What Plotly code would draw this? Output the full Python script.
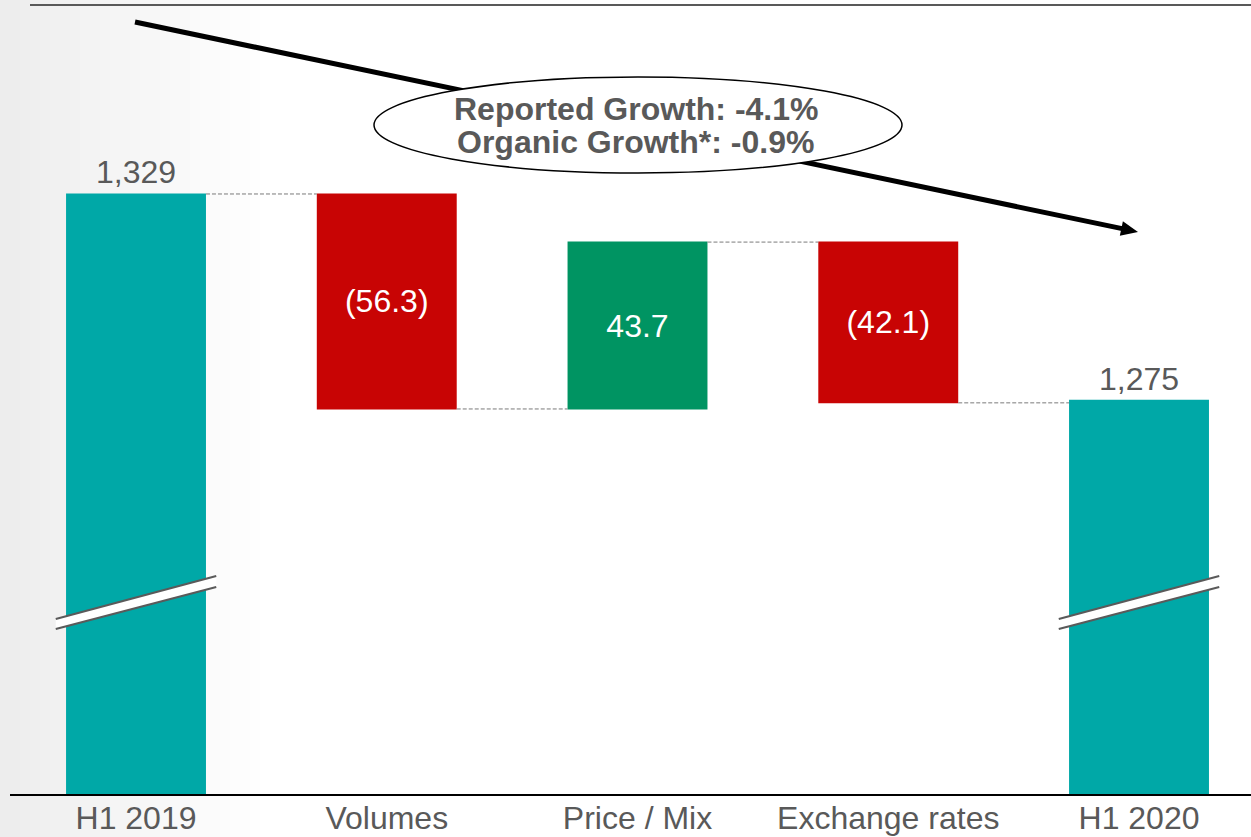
import plotly.graph_objects as go

# ---- data ----
categories = ["H1 2019", "Volumes", "Price / Mix", "Exchange rates", "H1 2020"]
measures = ["absolute", "relative", "relative", "relative", "absolute"]
values = [1329, -56.3, 43.7, -42.1, 1275]
reported_growth = -4.1
organic_growth = -0.9

# ---- style ----
TEAL = "#00A8A7"
RED = "#C80404"
GREEN = "#009462"
GREY_TEXT = "#595959"
FONT = "Arial, Liberation Sans, sans-serif"

W, H = 1251, 837
BOTTOM = 42                 # room for category labels
PH = H - BOTTOM             # plot-area height in px
Y_RANGE = [1171.6, 1379.8]  # broken value axis
X_RANGE = [-0.5424, 4.4466]


def label(v, m):
    if m == "absolute":
        return f"{v:,.0f}"
    return f"({abs(v):.1f})" if v < 0 else f"{v:.1f}"


texts = [label(v, m) for v, m in zip(values, measures)]
positions = ["outside" if m == "absolute" else "inside" for m in measures]


def px_x(x):
    return x / W


def px_y(y):
    return (PH - y) / PH


fig = go.Figure()
fig.add_trace(go.Waterfall(
    x=categories,
    y=values,
    measure=measures,
    text=texts,
    textposition=positions,
    insidetextanchor="middle",
    insidetextfont=dict(color="white", size=32, family=FONT),
    outsidetextfont=dict(color=GREY_TEXT, size=32, family=FONT),
    textfont=dict(size=32, family=FONT),
    width=0.558,
    increasing=dict(marker=dict(color=GREEN, line=dict(width=0))),
    decreasing=dict(marker=dict(color=RED, line=dict(width=0))),
    totals=dict(marker=dict(color=TEAL, line=dict(width=0))),
    connector=dict(mode="between", line=dict(color="#7A7A7A", width=1, dash="4px,2px")),
    hoverinfo="skip",
    constraintext="none",
    cliponaxis=False,
))

shapes = []

# soft grey shading along the left edge
n_strips = 26
for i in range(n_strips):
    g = int(237 + (255 - 237) * (i / n_strips) ** 0.9)
    shapes.append(dict(
        type="rect", xref="paper", yref="paper", layer="below",
        x0=px_x(i * 10), x1=px_x(i * 10 + 10), y0=px_y(H), y1=1,
        fillcolor=f"rgb({g},{g},{g})", line=dict(width=0),
    ))

# top rule and baseline
shapes.append(dict(type="line", xref="paper", yref="paper",
                   x0=px_x(30), x1=1, y0=px_y(5), y1=px_y(5),
                   line=dict(color=GREY_TEXT, width=2)))
shapes.append(dict(type="line", xref="paper", yref="paper",
                   x0=px_x(10), x1=1, y0=0, y1=0,
                   line=dict(color="black", width=2)))

# axis-break marks across the two total bars
for idx, m in enumerate(measures):
    if m != "absolute":
        continue
    xl, xr = idx - 0.32, idx + 0.32
    yl_top, yl_bot = px_y(619), px_y(629)
    yr_top, yr_bot = px_y(576), px_y(587)
    shapes.append(dict(
        type="path", xref="x", yref="paper", layer="above",
        path=f"M {xl},{yl_top} L {xr},{yr_top} L {xr},{yr_bot} L {xl},{yl_bot} Z",
        fillcolor="white", line=dict(width=0),
    ))
    for (ya, yb) in [(yl_top, yr_top), (yl_bot, yr_bot)]:
        shapes.append(dict(type="line", xref="x", yref="paper", layer="above",
                           x0=xl, x1=xr, y0=ya, y1=yb,
                           line=dict(color="#5A5A5A", width=2)))

# trend arrow (line + head)
tail = (135, 22)
tip = (1138, 232)
dx, dy = tip[0] - tail[0], tip[1] - tail[1]
L = (dx ** 2 + dy ** 2) ** 0.5
ux, uy = dx / L, dy / L
head_len, head_half = 17, 7.5
bx, by = tip[0] - head_len * ux, tip[1] - head_len * uy
shapes.append(dict(type="line", xref="paper", yref="paper", layer="above",
                   x0=px_x(tail[0]), y0=px_y(tail[1]),
                   x1=px_x(bx + 2 * ux), y1=px_y(by + 2 * uy),
                   line=dict(color="black", width=5)))
p1 = (bx - head_half * uy, by + head_half * ux)
p2 = (bx + head_half * uy, by - head_half * ux)
shapes.append(dict(
    type="path", xref="paper", yref="paper", layer="above",
    path=(f"M {px_x(tip[0])},{px_y(tip[1])} L {px_x(p1[0])},{px_y(p1[1])} "
          f"L {px_x(p2[0])},{px_y(p2[1])} Z"),
    fillcolor="black", line=dict(width=0),
))

# growth callout ellipse
shapes.append(dict(type="circle", xref="paper", yref="paper", layer="above",
                   x0=px_x(374), x1=px_x(902), y0=px_y(173), y1=px_y(77),
                   fillcolor="white", line=dict(color="black", width=1.5)))

annotations = [
    dict(xref="paper", yref="paper", x=px_x(636), y=px_y(109),
         text=f"<b>Reported Growth: {reported_growth:.1f}%</b>", showarrow=False,
         font=dict(size=32, color=GREY_TEXT, family=FONT), xanchor="center", yanchor="middle"),
    dict(xref="paper", yref="paper", x=px_x(636), y=px_y(142),
         text=f"<b>Organic Growth*: {organic_growth:.1f}%</b>", showarrow=False,
         font=dict(size=32, color=GREY_TEXT, family=FONT), xanchor="center", yanchor="middle"),
]

fig.update_layout(
    width=W, height=H,
    margin=dict(l=0, r=0, t=0, b=BOTTOM, pad=0),
    paper_bgcolor="white",
    plot_bgcolor="rgba(0,0,0,0)",
    showlegend=False,
    shapes=shapes,
    annotations=annotations,
    font=dict(family=FONT, color=GREY_TEXT),
    xaxis=dict(range=X_RANGE, showgrid=False, zeroline=False, showline=False,
               ticks="", tickfont=dict(size=32, color=GREY_TEXT, family=FONT),
               ticklabelstandoff=1, automargin=False, fixedrange=True),
    yaxis=dict(range=Y_RANGE, visible=False, showgrid=False, zeroline=False,
               automargin=False, fixedrange=True),
)

fig.write_html("out.html")
